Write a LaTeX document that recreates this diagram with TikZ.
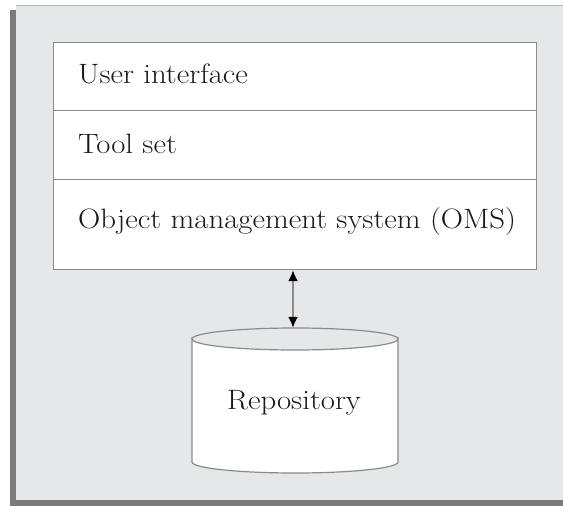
\documentclass[tikz,border=0pt]{standalone}
\usetikzlibrary{arrows.meta}
\definecolor{panelfill}{HTML}{E6E7E9}
\definecolor{shadow}{HTML}{7A7B7D}
\definecolor{edge}{HTML}{B4B5B7}
\definecolor{boxline}{HTML}{8A8B8D}
\newcommand{\wide}[1]{\scalebox{1.1}[1]{#1}}
\begin{document}
\begin{tikzpicture}[x=1pt,y=-1pt,
  layer/.style={draw=boxline,line width=1.2pt,fill=white,minimum width=483pt,inner sep=0pt,anchor=north west},
  lbl/.style={anchor=base west,inner sep=0pt,font=\fontsize{28}{32}\selectfont,text=black!90},
  link/.style={draw=boxline,line width=1.8pt,{Latex[length=11pt,width=10pt,color=black]}-{Latex[length=11pt,width=10pt,color=black]}}]
\useasboundingbox (0,0) rectangle (563,506);
% panel with shadow
\fill[shadow] (10,10) rectangle (563,506);
\fill[panelfill] (16,5) rectangle (563,500);
\draw[edge,line width=1pt] (16,5.5) -- (563,5.5);
% layers
\node[layer,minimum height=68pt] (ui) at (53,42) {};
\node[layer,minimum height=69pt] (ts) at (53,110) {};
\node[layer,minimum height=90pt] (oms) at (53,179) {};
\node[lbl] (uit) at (78,83) {\wide{User interface}};
\node[lbl] (tst) at (78,153) {\wide{Tool set}};
\node[lbl] (omst) at (78,228) {\wide{Object management system (OMS)}};
% repository cylinder
\node[inner sep=0pt,minimum width=206pt,minimum height=145pt] (repo) at (295,400.5) {};
\draw[boxline,line width=1.2pt,fill=white]
  (192,339) arc[start angle=180,end angle=0,x radius=103,y radius=11]
  -- (398,462) arc[start angle=0,end angle=180,x radius=103,y radius=11] -- cycle;
\draw[boxline,line width=1.2pt] (192,339) arc[start angle=180,end angle=360,x radius=103,y radius=11];
\node[anchor=base,inner sep=0pt,font=\fontsize{28}{32}\selectfont,text=black!90] (repot) at (294,409) {\wide{Repository}};
% connector
\draw[link] (oms.south -| 293,0) -- (repo.north -| 293,0);
\end{tikzpicture}
\end{document}
